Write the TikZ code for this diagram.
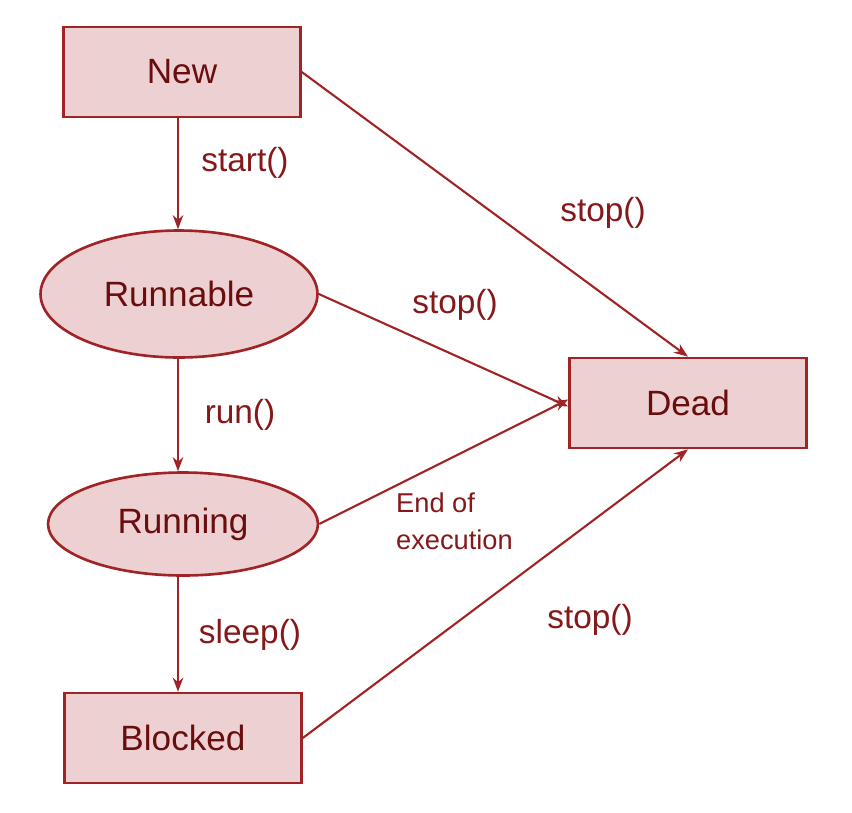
\documentclass[tikz,border=0pt]{standalone}
\usepackage{fontspec}
\setmainfont{Liberation Sans}
\usetikzlibrary{positioning,shapes.geometric,arrows.meta}
\definecolor{statefill}{HTML}{EDD1D2}
\definecolor{statedraw}{HTML}{A02326}
\definecolor{stateink}{HTML}{6A0D0F}
\definecolor{edgeink}{HTML}{85181A}

\begin{document}
\begin{tikzpicture}[x=0.02cm, y=-0.02cm,
  statebox/.style={draw=statedraw, fill=statefill, line width=1.5pt, inner sep=0pt,
    minimum width=4.74cm, minimum height=1.8cm, font=\fontsize{20}{24}\selectfont, text=stateink},
  stateoval/.style={statebox, ellipse, minimum width=5.54cm, minimum height=2.54cm},
  trans/.style={-{Stealth[length=8pt, width=6pt]}, draw=statedraw, line width=1.2pt},
  translabel/.style={font=\fontsize{19}{23}\selectfont, text=edgeink}]
  \useasboundingbox (0,0) rectangle (852,812);
  \node[statebox] (new) at (182,72) {New};
  \node[stateoval] (runnable) at (179,294) {Runnable};
  \node[stateoval, minimum width=5.4cm, minimum height=2.06cm] (running) at (183,524) {Running};
  \node[statebox] (blocked) at (183,738) {Blocked};
  \node[statebox] (dead) at (688,403) {Dead};
  % transitions
  \draw[trans] (new.south -| 178,0) -- (runnable.north -| 178,0);
  \draw[trans] (runnable.south -| 178,0) -- (running.north -| 178,0);
  \draw[trans] (running.south -| 178,0) -- (blocked.north -| 178,0);
  \draw[trans] (new.east) -- (dead.north);
  \draw[trans] (runnable.east) -- ([yshift=-2pt]dead.west);
  \draw[trans] (running.east) -- ([yshift=2pt]dead.west);
  \draw[trans] (blocked.east) -- (dead.south);
  % labels
  \node[translabel] (lstart) at (245,163) {start()};
  \node[translabel] (lrun) at (240,415) {run()};
  \node[translabel] (lsleep) at (250,635) {sleep()};
  \node[translabel] (lstopa) at (603,213) {stop()};
  \node[translabel] (lstopb) at (455,305) {stop()};
  \node[translabel] (lstopc) at (590,620) {stop()};
  \node[translabel, font=\fontsize{15.5}{21}\selectfont, align=left, anchor=west] (lend) at (390,521) {End of\\execution};
\end{tikzpicture}
\end{document}
